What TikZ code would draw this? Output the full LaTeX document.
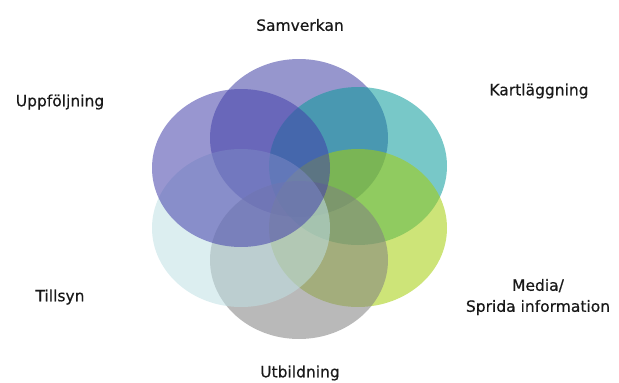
\documentclass[tikz,border=0pt]{standalone}
\usepackage{fontspec}
\setmainfont{DejaVu Sans}
\newfontfamily\lblfont[FakeBold=0.5]{DejaVu Sans}
\usetikzlibrary{shapes.geometric}
\definecolor{samvcol}{RGB}{64,64,164}
\definecolor{kartcol}{RGB}{10,155,155}
\definecolor{mediacol}{RGB}{164,206,10}
\definecolor{utbcol}{RGB}{128,128,128}
\definecolor{tillcol}{RGB}{191,224,228}
\definecolor{uppfcol}{RGB}{68,64,170}
\tikzset{
  petal/.style={ellipse, minimum width=178pt, minimum height=158pt, fill opacity=0.55, draw=none},
  lbl/.style={font=\lblfont\fontsize{15.5}{21}\selectfont, text=black!90, align=center}
}
\begin{document}
\begin{tikzpicture}[x=1pt, y=-1pt]
			\useasboundingbox (0,0) rectangle (619,383);
			\node	(samv) at (299,138) [petal, fill=samvcol] {};
			\node	(kart) at (358,166) [petal, fill=kartcol] {};
			\node	(media) at (358,228) [petal, fill=mediacol] {};
			\node	(utb) at (299,260) [petal, fill=utbcol] {};
			\node	(till) at (241,228) [petal, fill=tillcol] {};
			\node	(uppf) at (241,168) [petal, fill=uppfcol] {};
			\node   (samvtxt) at (300,25) [lbl] {Samverkan};
			\node   (karttxt) at (539,91) [lbl] {Kartläggning};
			\node   (mediatxt) at (538,297) [lbl] {Media/\\Sprida information};
			\node   (utbtxt) at (300,373) [lbl] {Utbildning};
			\node   (tilltxt) at (60,297) [lbl] {Tillsyn};
			\node   (uppftxt) at (60,102) [lbl] {Uppföljning};
		\end{tikzpicture}
\end{document}
